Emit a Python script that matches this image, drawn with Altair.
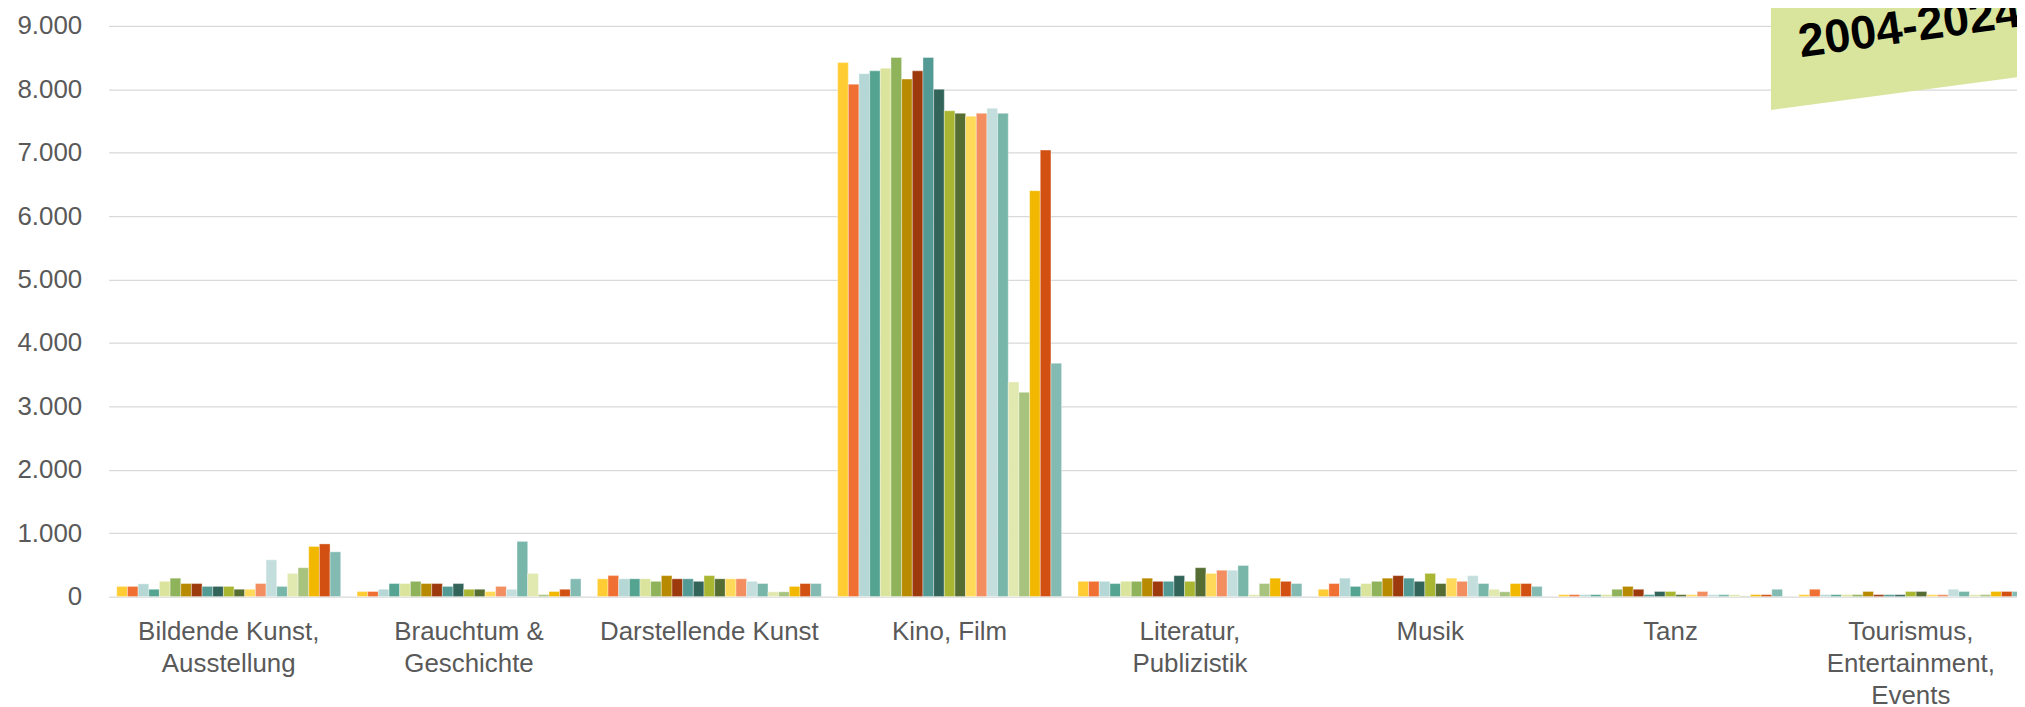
import altair as alt
import pandas as pd

years = [str(y) for y in range(2004, 2025)]
categories = [
    "Bildende Kunst,|Ausstellung",
    "Brauchtum &|Geschichte",
    "Darstellende Kunst",
    "Kino, Film",
    "Literatur,|Publizistik",
    "Musik",
    "Tanz",
    "Tourismus,|Entertainment,|Events",
]

bildende = [160, 160, 200, 115, 240, 290, 205, 205, 160, 160, 160, 115, 115, 205, 580, 160, 365, 455, 790, 830, 705]
brauchtum = [80, 80, 115, 205, 205, 240, 205, 205, 160, 205, 115, 115, 80, 160, 115, 870, 365, 30, 80, 115, 280]
darstellende = [280, 330, 280, 280, 280, 240, 330, 280, 280, 240, 330, 280, 280, 280, 240, 205, 75, 75, 160, 205, 205]
kino = [8420, 8080, 8245, 8290, 8330, 8500, 8160, 8290, 8500, 8000, 7660, 7620, 7575, 7620, 7700, 7620, 3385, 3220, 6400, 7040, 3680]
literatur = [240, 240, 240, 205, 240, 240, 290, 240, 240, 330, 240, 455, 365, 415, 415, 490, 30, 205, 290, 240, 205]
musik = [115, 205, 290, 160, 205, 240, 290, 330, 290, 240, 365, 205, 290, 240, 330, 205, 115, 75, 205, 205, 160]
tanz = [30, 30, 30, 30, 30, 115, 160, 115, 30, 80, 80, 30, 30, 80, 30, 30, 30, 10, 30, 30, 115]
tourismus = [30, 115, 30, 30, 30, 30, 80, 30, 30, 30, 80, 80, 30, 30, 115, 80, 30, 30, 80, 80, 80]

series = [bildende, brauchtum, darstellende, kino, literatur, musik, tanz, tourismus]

colors = [
    "#FFCD33", "#F07033", "#B5D7D5", "#55A491", "#DBE49C", "#8FB35A", "#B88A00",
    "#9C3A0E", "#529A93", "#33645A", "#A8B632", "#556D32", "#FFD95A", "#F28E5F",
    "#C4DEDE", "#78B6AA", "#E1E9B0", "#A8C37E", "#F2B800", "#D15012", "#83BBB3",
]

rows = []
for cat, vals in zip(categories, series):
    for yr, v in zip(years, vals):
        rows.append({"Bereich": cat, "Jahr": yr, "Wert": v})
df = pd.DataFrame(rows)

FONT = "Liberation Sans"

bars = alt.Chart(df).mark_bar(stroke="white", strokeWidth=0.8, strokeOpacity=0.45).encode(
    x=alt.X(
        "Bereich:N",
        sort=categories,
        scale=alt.Scale(paddingInner=0.068, paddingOuter=0.034),
        axis=alt.Axis(
            title=None, labelAngle=0, ticks=False, domain=False,
            labelFont=FONT, labelFontSize=26, labelColor="#595959",
            labelLineHeight=32, labelPadding=22, labelLimit=500,
            labelOverlap=False, labelExpr="split(datum.label, '|')",
        ),
    ),
    xOffset=alt.XOffset("Jahr:N", sort=years, scale=alt.Scale(paddingInner=0, paddingOuter=0)),
    y=alt.Y(
        "Wert:Q",
        scale=alt.Scale(domain=[0, 9000], nice=False),
        axis=alt.Axis(
            title=None, values=list(range(0, 10000, 1000)), ticks=False, domain=False,
            labelFont=FONT, labelFontSize=26, labelColor="#595959", labelPadding=27,
            gridColor="#d9d9d9", gridWidth=1.3,
            labelExpr="replace(format(datum.value, ','), ',', '.')",
        ),
    ),
    color=alt.Color("Jahr:N", sort=years, scale=alt.Scale(domain=years, range=colors), legend=None),
)

banner = alt.Chart(pd.DataFrame({"t": [0]})).mark_point(
    shape="M -1 -1 L 1 -1 L 1 0.733 L -1 1 Z", filled=True, opacity=1,
    color="#D9E49D", size=90000, strokeWidth=0,
).encode(x=alt.value(1819), y=alt.value(-65.5))

banner_text = alt.Chart(pd.DataFrame({"t": [0]})).mark_text(
    text="2004-2024", font=FONT, fontWeight="bold", fontSize=47, angle=352,
    align="left", baseline="alphabetic", color="black",
).encode(x=alt.value(1699), y=alt.value(31.5))

chart = alt.layer(bars, banner, banner_text).properties(
    width=1930, height=573,
    autosize=alt.AutoSizeParams(type="none"),
    padding={"left": 101, "top": 16.5, "right": -14, "bottom": 109.5},
).configure_view(stroke=None)

chart.save("out.html", embed_options={"renderer": "svg", "actions": False})
